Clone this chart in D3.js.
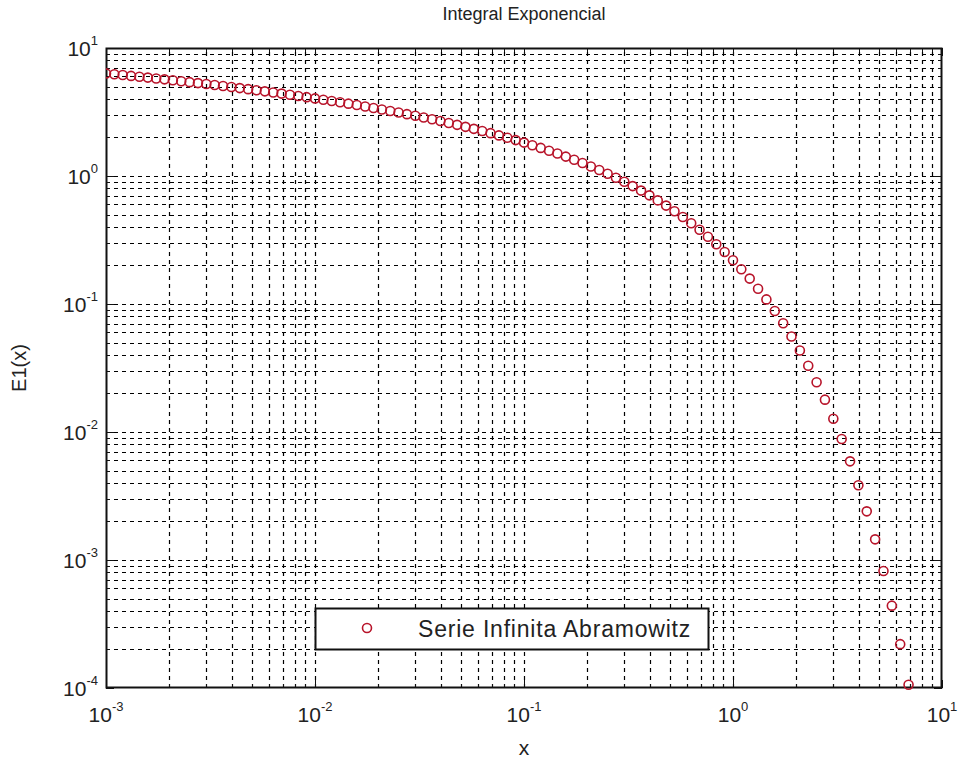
<!DOCTYPE html>
<html>
<head>
<meta charset="utf-8">
<script src="https://cdn.jsdelivr.net/npm/d3@7"></script>
<style>
body{margin:0;background:#fff;}
text{font-family:"Liberation Sans",Arial,sans-serif;fill:#222;}
</style>
</head>
<body>
<div id="chart"></div>
<script>
var chart_w=960
var chart_h=763
var chart_Padding={top:48, bottom:75, left:106, right:18};

//Data
var xValues=[0.001,0.001096,0.001202,0.001318,0.001445,0.001585,0.001738,0.001905,0.002089,0.002291,
             0.002512,0.002754,0.003020,0.003311,0.003631,0.003981,0.004365,0.004786,0.005248,0.005754,
             0.006310,0.006918,0.007586,0.008318,0.009120,0.01,0.01096,0.01202,0.01318,0.01445,
             0.01585,0.01738,0.01905,0.02089,0.02291,0.02512,0.02754,0.03020,0.03311,0.03631,
             0.03981,0.04365,0.04786,0.05248,0.05754,0.06310,0.06918,0.07586,0.08318,0.09120,
             0.1,0.1096,0.1202,0.1318,0.1445,0.1585,0.1738,0.1905,0.2089,0.2291,
             0.2512,0.2754,0.3020,0.3311,0.3631,0.3981,0.4365,0.4786,0.5248,0.5754,
             0.6310,0.6918,0.7586,0.8318,0.9120,1.0,1.096,1.202,1.318,1.445,
             1.585,1.738,1.905,2.089,2.291,2.512,2.754,3.020,3.311,3.631,
             3.981,4.365,4.786,5.248,5.754,6.310,6.918];
var yValues=[6.332,6.240,6.148,6.056,5.964,5.872,5.780,5.688,5.596,5.504,
             5.412,5.320,5.228,5.137,5.045,4.953,4.861,4.770,4.678,4.586,
             4.495,4.403,4.312,4.221,4.129,4.038,3.947,3.856,3.765,3.674,
             3.583,3.493,3.402,3.312,3.222,3.132,3.042,2.953,2.864,2.775,
             2.686,2.598,2.509,2.422,2.335,2.248,2.162,2.076,1.991,1.907,
             1.823,1.740,1.658,1.577,1.497,1.417,1.339,1.263,1.187,1.113,
             1.041,0.970,0.901,0.834,0.769,0.706,0.645,0.587,0.531,0.478,
             0.427,0.380,0.335,0.293,0.255,0.2194,0.1870,0.1579,0.1317,0.1086,
             0.0882,0.0707,0.0558,0.0433,0.0329,0.0245,0.0179,0.0127,0.00881,0.00590,
             0.00384,0.00240,0.00145,0.00082,0.00044,0.00022,0.000106];
var xTickExp=["-3","-2","-1","0","1"];
var yTickExp=["1","0","-1","-2","-3","-4"];

var titleText="Integral Exponencial";
var xLabelText="x";
var yLabelText="E1(x)";
var legendText="Serie Infinita Abramowitz";

var markColor="#b8142a";

var chart_svg=d3.select("#chart")
          .append("svg")
          .attr("width",chart_w)
          .attr("height",chart_h);

var pL=chart_Padding.left, pR=chart_w-chart_Padding.right;
var pT=chart_Padding.top, pB=chart_h-chart_Padding.bottom;

var xScale=d3.scaleLog().domain([1e-3,10]).range([pL,pR]);
var yScale=d3.scaleLog().domain([1e-4,10]).range([pB,pT]);

//major and minor tick values
function logTicks(lo,hi){
  var major=[], minor=[];
  for (var e=lo;e<=hi;e++){
    major.push(Math.pow(10,e));
    if (e<hi) for (var m=2;m<=9;m++) minor.push(m*Math.pow(10,e));
  }
  return {major:major, minor:minor};
}
var xt=logTicks(-3,1), yt=logTicks(-4,1);

//grid
var grid=chart_svg.append("g").attr("class","grid")
     .attr("stroke","#000").attr("stroke-width",1.2).attr("stroke-dasharray","4,4");
grid.selectAll("line.vx")
    .data(xt.major.concat(xt.minor).filter(function(d){return d>1e-3 && d<10;}))
    .enter().append("line")
    .attr("x1",function(d){return Math.round(xScale(d))+0.5;})
    .attr("x2",function(d){return Math.round(xScale(d))+0.5;})
    .attr("y1",pB).attr("y2",pT);
grid.selectAll("line.hy")
    .data(yt.major.concat(yt.minor).filter(function(d){return d>1e-4 && d<10;}))
    .enter().append("line")
    .attr("y1",function(d){return Math.round(yScale(d))+0.5;})
    .attr("y2",function(d){return Math.round(yScale(d))+0.5;})
    .attr("x1",pL).attr("x2",pR);

//ticks (inside, mirrored)
var ticks=chart_svg.append("g").attr("stroke","#111").attr("stroke-width",1);
function xTick(d,len){
  var x=Math.round(xScale(d))+0.5;
  ticks.append("line").attr("x1",x).attr("x2",x).attr("y1",pB).attr("y2",pB-len);
  ticks.append("line").attr("x1",x).attr("x2",x).attr("y1",pT).attr("y2",pT+len);
}
function yTick(d,len){
  var y=Math.round(yScale(d))+0.5;
  ticks.append("line").attr("y1",y).attr("y2",y).attr("x1",pL).attr("x2",pL+len);
  ticks.append("line").attr("y1",y).attr("y2",y).attr("x1",pR).attr("x2",pR-len);
}
xt.major.forEach(function(d){xTick(d,8);});
xt.minor.forEach(function(d){xTick(d,4);});
yt.major.forEach(function(d){yTick(d,8);});
yt.minor.forEach(function(d){yTick(d,4);});

//box
chart_svg.append("rect")
        .attr("x",pL+0.5).attr("y",pT+0.5)
        .attr("width",pR-pL-1).attr("height",pB-pT-1)
        .attr("fill","none").attr("stroke","#111").attr("stroke-width",2);

//data
chart_svg.append("clipPath").attr("id","plotclip")
        .append("rect").attr("x",pL).attr("y",pT)
        .attr("width",pR-pL).attr("height",pB-pT+3);
chart_svg.append("g")
        .attr("class","points")
        .attr("clip-path","url(#plotclip)")
        .selectAll("circle")
        .data(xValues)
        .enter()
        .append("circle")
        .attr("cx",function(d){return xScale(d);})
        .attr("cy",function(d,i){return yScale(yValues[i]);})
        .attr("r",4.5)
        .attr("fill","none")
        .attr("stroke",markColor)
        .attr("stroke-width",1.6);

//tick labels
var xl=chart_svg.append("g").attr("class","x-labels");
xTickExp.forEach(function(e){
  var t=xl.append("text")
          .attr("x",xScale(Math.pow(10,+e)))
          .attr("y",pB+34)
          .attr("text-anchor","middle")
          .attr("font-size",21);
  t.append("tspan").text("10");
  t.append("tspan").attr("dy",-11).attr("font-size",13).text(e);
});
var yl=chart_svg.append("g").attr("class","y-labels");
yTickExp.forEach(function(e){
  var t=yl.append("text")
          .attr("x",pL-8)
          .attr("y",yScale(Math.pow(10,+e))+8)
          .attr("text-anchor","end")
          .attr("font-size",21);
  t.append("tspan").text("10");
  t.append("tspan").attr("dy",-11).attr("font-size",13).text(e);
});

//title and axis labels
chart_svg.append("text")
        .attr("x",(pL+pR)/2)
        .attr("y",pT-28)
        .attr("text-anchor","middle")
        .attr("font-size",18)
        .text(titleText);
chart_svg.append("text")
        .attr("x",(pL+pR)/2)
        .attr("y",chart_h-8)
        .attr("text-anchor","middle")
        .attr("font-size",21)
        .text(xLabelText);
chart_svg.append("text")
        .attr("transform","translate(26,"+((pT+pB)/2)+")rotate(-90)")
        .attr("text-anchor","middle")
        .attr("font-size",20)
        .text(yLabelText);

//legend
var lg=chart_svg.append("g").attr("class","legend");
lg.append("rect")
  .attr("x",315.5).attr("y",608.5).attr("width",393).attr("height",41)
  .attr("fill","#fff").attr("stroke","#111").attr("stroke-width",2);
lg.append("circle")
  .attr("cx",367).attr("cy",628).attr("r",4.5)
  .attr("fill","none").attr("stroke",markColor).attr("stroke-width",1.6);
lg.append("text")
  .attr("x",418).attr("y",637)
  .attr("font-size",23)
  .attr("letter-spacing",0.8)
  .text(legendText);
</script>
</body>
</html>
